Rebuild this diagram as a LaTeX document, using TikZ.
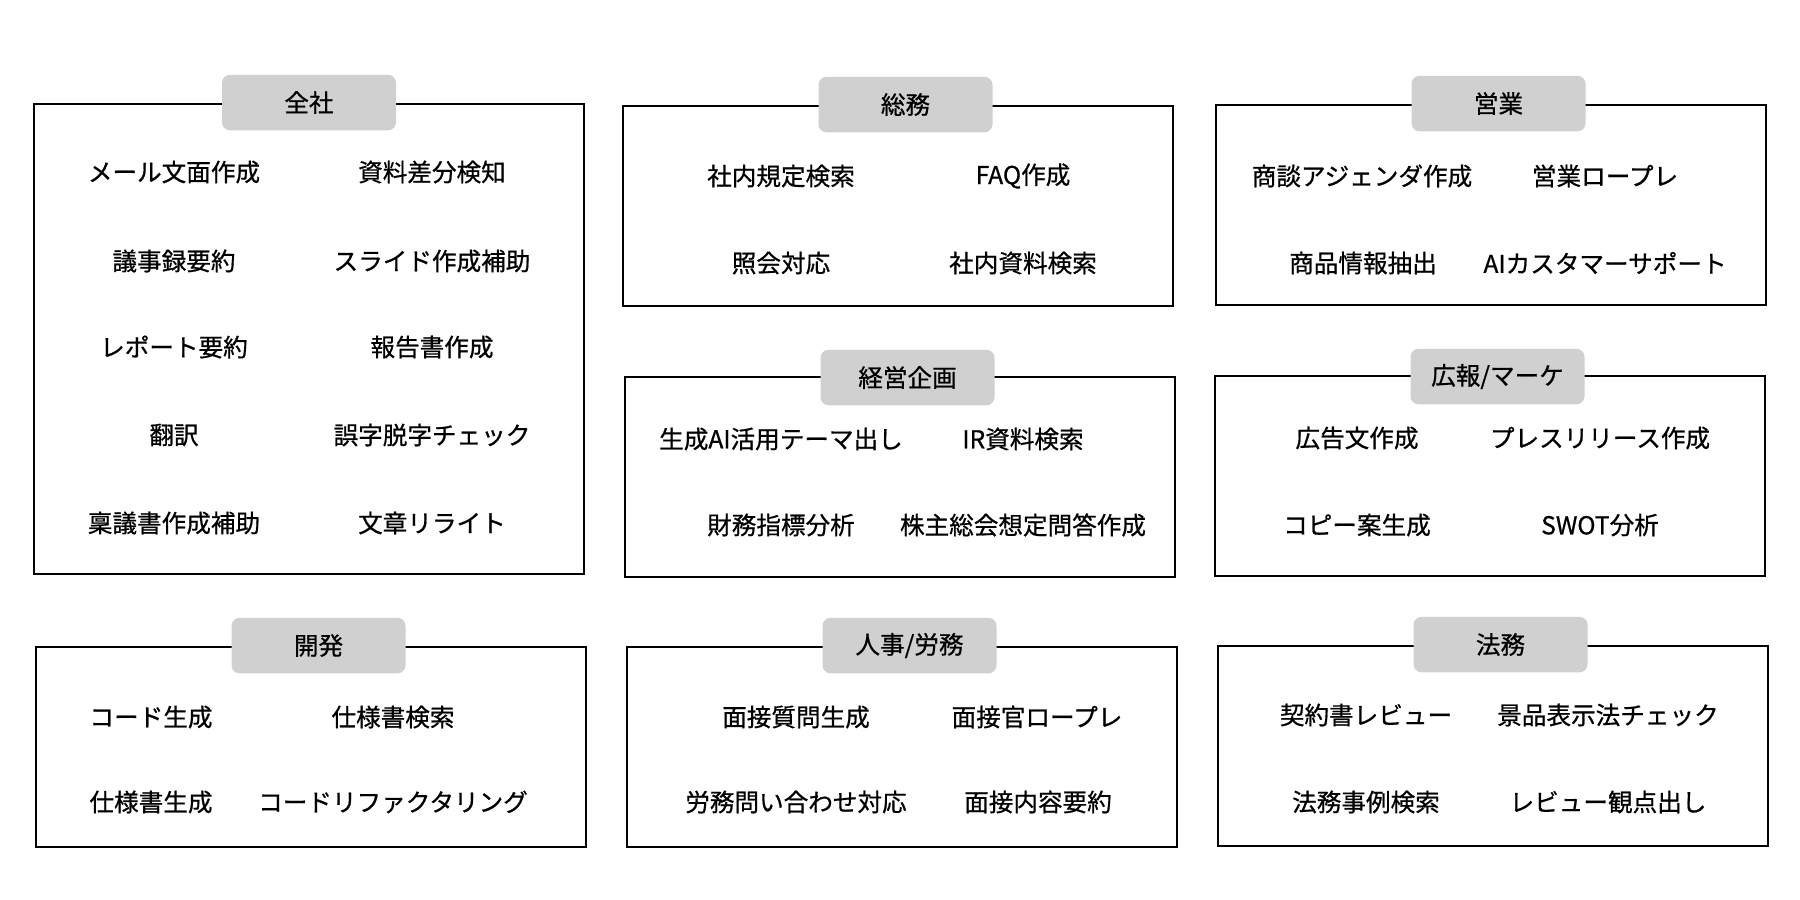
\documentclass[tikz,border=0pt]{standalone}
\usepackage{fontspec}
\setmainfont{Noto Sans CJK JP}[FakeBold=0.7]
\usepackage{tikz}
\definecolor{tagfill}{RGB}{208,208,208}

\begin{document}
\begin{tikzpicture}[x=0.5pt,y=-0.5pt,
    every node/.style={font=\fontsize{12.3pt}{14pt}\selectfont},
    grp/.style={draw=black,line width=1.45pt,fill=white,inner sep=0pt,minimum width=275pt,minimum height=100pt},
    tag/.style={fill=tagfill,rounded corners=4pt,inner sep=0pt,minimum width=87pt,minimum height=27.75pt},
    item/.style={inner sep=0pt}]
    \useasboundingbox (0,0) rectangle (1800,900);

    % groups
    \node[grp,minimum height=235pt] (zensha) at (309,339) {};
    \node[grp] (somu) at (898,206) {};
    \node[grp] (keiei) at (900,477) {};
    \node[grp] (eigyo) at (1491,205) {};
    \node[grp] (koho) at (1490,476) {};
    \node[grp] (kaihatsu) at (311,747) {};
    \node[grp] (jinji) at (902,747) {};
    \node[grp] (homu) at (1493,746) {};

    % tags
    \node[tag] (tzensha) at (zensha.north) {全社};
    \node[tag] (tsomu) at ([xshift=3.75pt]somu.north) {総務};
    \node[tag] (tkeiei) at ([xshift=3.75pt,yshift=-1pt]keiei.north) {経営企画};
    \node[tag] (teigyo) at ([xshift=3.75pt]eigyo.north) {営業};
    \node[tag] (tkoho) at ([xshift=3.75pt,yshift=-1pt]koho.north) {広報/マーケ};
    \node[tag] (tkaihatsu) at ([xshift=3.75pt]kaihatsu.north) {開発};
    \node[tag] (tjinji) at ([xshift=3.75pt]jinji.north) {人事/労務};
    \node[tag] (thomu) at ([xshift=3.75pt]homu.north) {法務};

    % 全社
    \node[item] (z1) at (174,172) {メール文面作成};
    \node[item] (z2) at (432,172) {資料差分検知};
    \node[item] (z3) at (174,261) {議事録要約};
    \node[item] (z4) at (432,261) {スライド作成補助};
    \node[item] (z5) at (174,347) {レポート要約};
    \node[item] (z6) at (432,347) {報告書作成};
    \node[item] (z7) at (174,435) {翻訳};
    \node[item] (z8) at (432,435) {誤字脱字チェック};
    \node[item] (z9) at (174,523) {稟議書作成補助};
    \node[item] (z10) at (432,523) {文章リライト};

    % 総務
    \node[item] (s1) at (781,176) {社内規定検索};
    \node[item] (s2) at (1023,176) {FAQ作成};
    \node[item] (s3) at (781,263) {照会対応};
    \node[item] (s4) at (1023,263) {社内資料検索};

    % 経営企画
    \node[item] (k1) at (781,439) {生成AI活用テーマ出し};
    \node[item] (k2) at (1023,439) {IR資料検索};
    \node[item] (k3) at (781,525) {財務指標分析};
    \node[item] (k4) at (1023,525) {株主総会想定問答作成};

    % 営業
    \node[item] (e1) at (1362,176) {商談アジェンダ作成};
    \node[item] (e2) at (1605,176) {営業ロープレ};
    \node[item] (e3) at (1363,263) {商品情報抽出};
    \node[item] (e4) at (1605,263) {AIカスタマーサポート};

    % 広報/マーケ
    \node[item] (p1) at (1357,438) {広告文作成};
    \node[item] (p2) at (1600,438) {プレスリリース作成};
    \node[item] (p3) at (1357,525) {コピー案生成};
    \node[item] (p4) at (1600,525) {SWOT分析};

    % 開発
    \node[item] (d1) at (151,717) {コード生成};
    \node[item] (d2) at (393,717) {仕様書検索};
    \node[item] (d3) at (151,802) {仕様書生成};
    \node[item] (d4) at (393,802) {コードリファクタリング};

    % 人事/労務
    \node[item] (j1) at (796,717) {面接質問生成};
    \node[item] (j2) at (1037,717) {面接官ロープレ};
    \node[item] (j3) at (796,802) {労務問い合わせ対応};
    \node[item] (j4) at (1038,802) {面接内容要約};

    % 法務
    \node[item] (h1) at (1366,715) {契約書レビュー};
    \node[item] (h2) at (1608,715) {景品表示法チェック};
    \node[item] (h3) at (1366,802) {法務事例検索};
    \node[item] (h4) at (1608,802) {レビュー観点出し};
\end{tikzpicture}
\end{document}
